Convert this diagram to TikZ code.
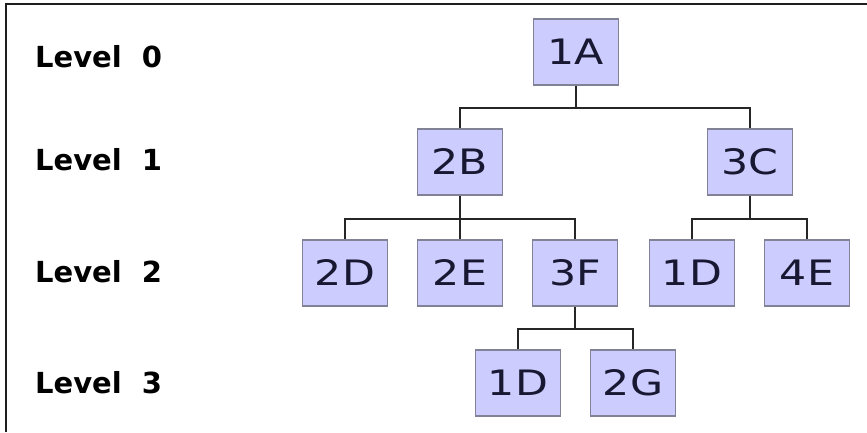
\documentclass[tikz,border=0pt]{standalone}
\usepackage{fontspec}
\setmainfont{DejaVu Sans}
\newfontfamily\boxfont[FakeStretch=1.22]{DejaVu Sans}
\newfontfamily\lvlfont{DejaVu Sans Bold}
\definecolor{boxfill}{RGB}{204,204,255}
\definecolor{boxline}{RGB}{130,130,150}
\definecolor{boxtext}{RGB}{24,24,50}
\definecolor{frameline}{RGB}{30,30,30}
\tikzset{
  box/.style={draw=boxline, fill=boxfill, line width=1.3pt, minimum width=85pt, minimum height=66pt, inner sep=0pt, text=boxtext, font=\boxfont\fontsize{35}{35}\selectfont},
  conn/.style={draw=black!85, line width=2pt},
  lvl/.style={anchor=base west, inner sep=0pt, font=\lvlfont\fontsize{29}{29}\selectfont, text=black}
}
\begin{document}
\begin{tikzpicture}[x=1pt,y=-1pt]
\useasboundingbox (0,0) rectangle (867,432);
\fill[white] (0,0) rectangle (867,432);
\draw[line width=2pt, frameline] (6,432) -- (6,4) -- (867,4);
% level labels
\node[lvl] (L0) at (35,67) {Level\hspace{20pt}0};
\node[lvl] (L1) at (35,170) {Level\hspace{20pt}1};
\node[lvl] (L2) at (35,282) {Level\hspace{20pt}2};
\node[lvl] (L3) at (35,393) {Level\hspace{20pt}3};
% boxes
\node[box] (n1A) at (576,52) {1A};
\node[box] (n2B) at (460,162) {2B};
\node[box] (n3C) at (750,162) {3C};
\node[box] (n2D) at (345,273) {2D};
\node[box] (n2E) at (460,273) {2E};
\node[box] (n3F) at (575,273) {3F};
\node[box] (n1Da) at (692,273) {1D};
\node[box] (n4E) at (807,273) {4E};
\node[box] (n1Db) at (518,383) {1D};
\node[box] (n2G) at (633,383) {2G};
% connectors
\draw[conn] (n1A.south) -- ++(0,22) coordinate (j0);
\draw[conn] (j0) -| (n2B.north);
\draw[conn] (j0) -| (n3C.north);
\draw[conn] (n2B.south) -- ++(0,23) coordinate (j1);
\draw[conn] (j1) -| (n2D.north);
\draw[conn] (j1) -| (n2E.north);
\draw[conn] (j1) -| (n3F.north);
\draw[conn] (n3C.south) -- ++(0,23) coordinate (j2);
\draw[conn] (j2) -| (n1Da.north);
\draw[conn] (j2) -| (n4E.north);
\draw[conn] (n3F.south) -- ++(0,22) coordinate (j3);
\draw[conn] (j3) -| (n1Db.north);
\draw[conn] (j3) -| (n2G.north);
\end{tikzpicture}
\end{document}
